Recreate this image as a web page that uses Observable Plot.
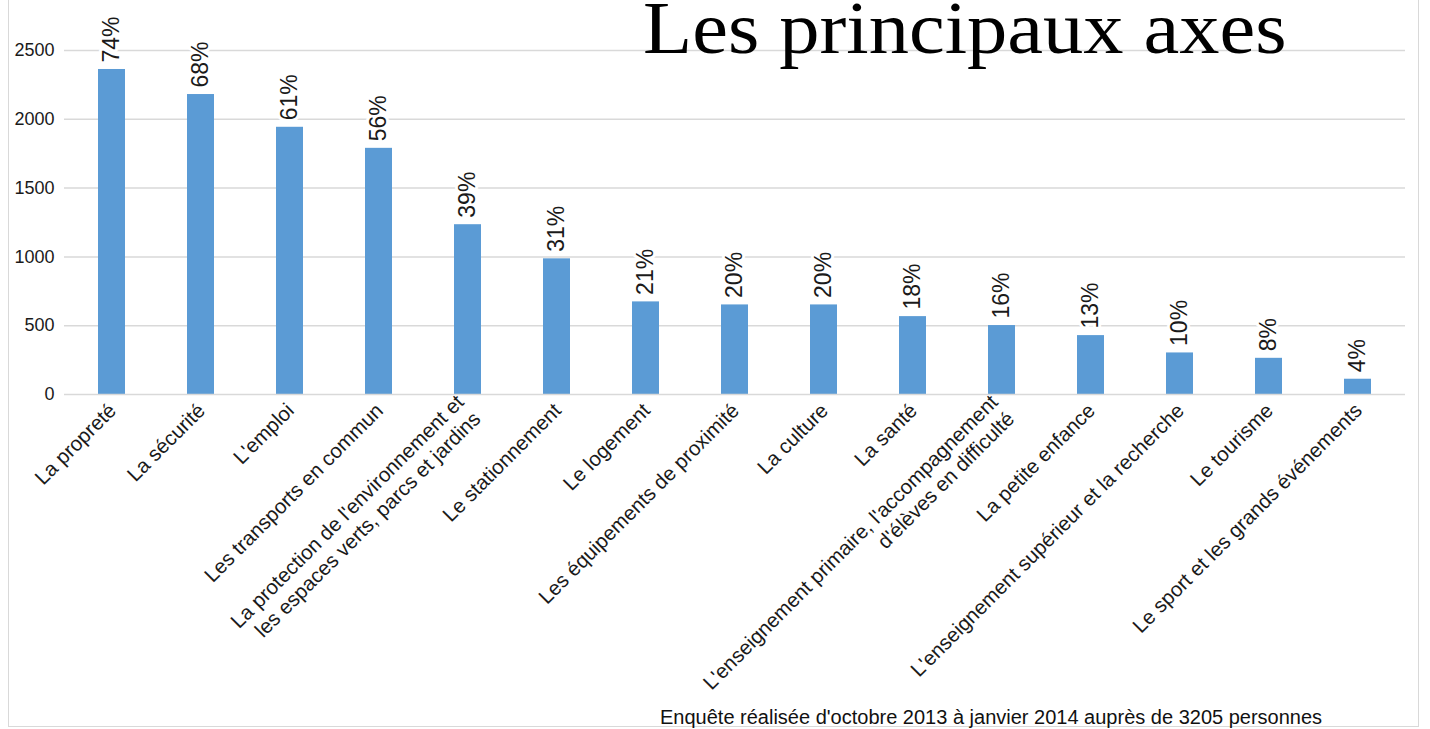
<!DOCTYPE html>
<html><head><meta charset="utf-8">
<script src="https://cdn.jsdelivr.net/npm/d3@7"></script>
<script src="https://cdn.jsdelivr.net/npm/@observablehq/plot@0.6"></script>
<style>
body{margin:0;background:#fff;}
#wrap{position:relative;width:1430px;height:729px;overflow:hidden;font-family:"Liberation Sans",Arial,sans-serif;background:#fff;}
#frame{position:absolute;left:8px;top:-3px;width:1411px;height:730px;border:1.5px solid #d9d9d9;box-sizing:border-box;}
#title{position:absolute;left:643px;top:-10px;font-family:"Liberation Serif","Times New Roman",serif;font-size:75px;line-height:1;white-space:nowrap;color:#000;transform:scaleX(1.073);transform-origin:0 0;}
#caption{position:absolute;left:660px;top:707px;font-size:20px;line-height:1;white-space:nowrap;color:#111;}
#chart{position:absolute;left:0;top:0;}
</style>
</head><body>
<div id="wrap">
  <div id="frame"></div>
  <div id="chart"></div>
  <div id="title"></div>
  <div id="caption"></div>
</div>
<script>
const title = "Les principaux axes";
const caption = "Enquête réalisée d'octobre 2013 à janvier 2014 auprès de 3205 personnes";
const categories = [
  "La propreté",
  "La sécurité",
  "L'emploi",
  "Les transports en commun",
  "La protection de l'environnement et\nles espaces verts, parcs et jardins",
  "Le stationnement",
  "Le logement",
  "Les équipements de proximité",
  "La culture",
  "La santé",
  "L'enseignement primaire, l'accompagnement\nd'élèves en difficulté",
  "La petite enfance",
  "L'enseignement supérieur et la recherche",
  "Le tourisme",
  "Le sport et les grands événements"
];
const counts = [2362, 2180, 1942, 1789, 1234, 986, 673, 651, 651, 566, 501, 428, 302, 263, 111];
const shares = ["74%", "68%", "61%", "56%", "39%", "31%", "21%", "20%", "20%", "18%", "16%", "13%", "10%", "8%", "4%"];
const yTicks = [0, 500, 1000, 1500, 2000, 2500];

const data = categories.map((c, i) => ({category: c, count: counts[i], share: shares[i]}));

document.getElementById("title").textContent = title;
document.getElementById("caption").textContent = caption;

const chart = Plot.plot({
  width: 1430,
  height: 729,
  marginTop: 50,
  marginBottom: 335,
  marginLeft: 64,
  marginRight: 25,
  style: {fontFamily: '"Liberation Sans", Arial, sans-serif', background: "transparent", color: "#1a1a1a", overflow: "visible"},
  x: {domain: categories, paddingInner: 0.7, paddingOuter: 0.35, label: null},
  y: {domain: [0, 2500], label: null},
  marks: [
    Plot.ruleY(yTicks.slice(1), {stroke: "#d9d9d9", strokeWidth: 1.5}),
    Plot.barY(data, {x: "category", y: "count", fill: "#5b9bd5"}),
    Plot.ruleY([0], {stroke: "#d9d9d9", strokeWidth: 1.5}),
    Plot.text(data, {x: "category", y: "count", text: "share", rotate: -90, textAnchor: "start", lineAnchor: "middle", dy: -7, fontSize: 23, fill: "#1a1a1a", stroke: "white", strokeWidth: 6, paintOrder: "stroke"}),
    Plot.axisY(yTicks, {tickSize: 0, tickPadding: 10, fontSize: 18, label: null, fill: "#1a1a1a", tickFormat: d => String(d)}),
    Plot.axisX({tickSize: 0, tickPadding: 12, tickRotate: -45, fontSize: 20.5, lineHeight: 1.15, label: null, fill: "#1a1a1a"})
  ]
});
document.getElementById("chart").appendChild(chart);
</script>
</body></html>
